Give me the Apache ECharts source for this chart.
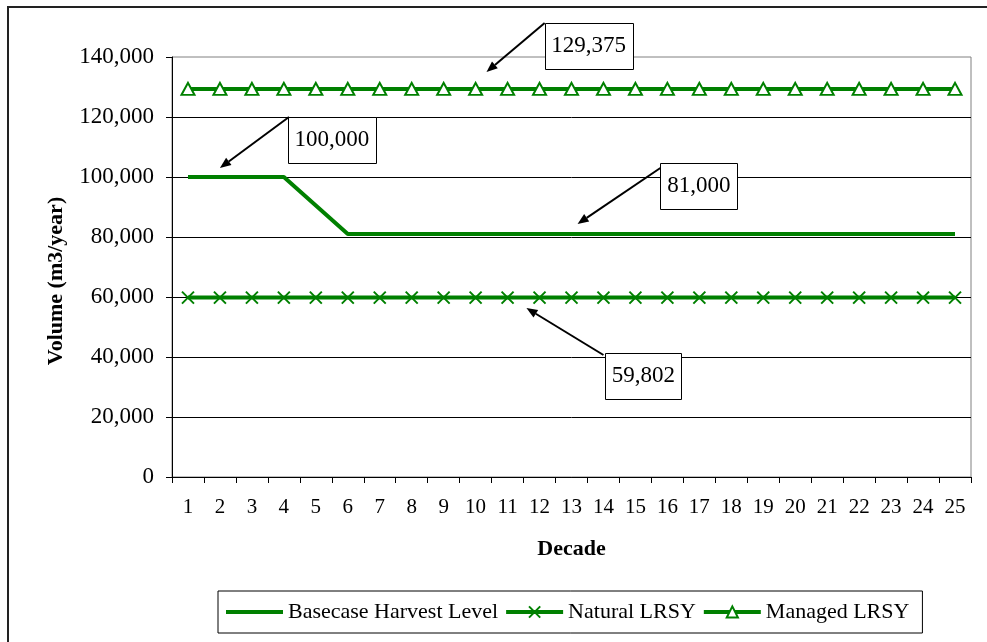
<!DOCTYPE html>
<html>
<head>
<meta charset="utf-8">
<script src="https://cdn.jsdelivr.net/npm/echarts@6/dist/echarts.min.js"></script>
<style>
  html, body { margin: 0; padding: 0; background: #fff; }
  #chart { width: 987px; height: 642px; }
</style>
</head>
<body>
<div id="chart"></div>
<script>
// Harvest volume (m3/year) by decade
const decades = ['1','2','3','4','5','6','7','8','9','10','11','12','13','14','15','16','17','18','19','20','21','22','23','24','25'];
const basecaseHarvest = [100000, 100000, 100000, 100000, 90500, 81000, 81000, 81000, 81000, 81000,
  81000, 81000, 81000, 81000, 81000, 81000, 81000, 81000, 81000, 81000, 81000, 81000, 81000, 81000, 81000];
const naturalLRSY = [59802, 59802, 59802, 59802, 59802, 59802, 59802, 59802, 59802, 59802,
  59802, 59802, 59802, 59802, 59802, 59802, 59802, 59802, 59802, 59802, 59802, 59802, 59802, 59802, 59802];
const managedLRSY = [129375, 129375, 129375, 129375, 129375, 129375, 129375, 129375, 129375, 129375,
  129375, 129375, 129375, 129375, 129375, 129375, 129375, 129375, 129375, 129375, 129375, 129375, 129375, 129375, 129375];
const seriesNames = ['Basecase Harvest Level', 'Natural LRSY', 'Managed LRSY'];
const yTicks = [0, 20000, 40000, 60000, 80000, 100000, 120000, 140000];

// Callout labels with arrows; tail/tip given as (decade, volume)
const calloutText = ['129,375', '100,000', '81,000', '59,802'];
const calloutTail = [[12.16, 151333], [4.16, 120000], [15.78, 103000], [14.0, 40667]];
const calloutTip  = [[10.34, 135000], [2.0, 103000], [13.19, 84333], [11.59, 56333]];
// box placement relative to the arrow tail, in pixels: [dx, dy, width, height]
const calloutBox = [[0, 0, 88, 46], [-1, 0, 88, 46], [0, -5, 77, 46], [2, -2, 76, 46]];

const FONT = "'Liberation Serif', 'Times New Roman', serif";
const GREEN = '#008000';
const CROSS = 'path://M0 0L10 10M10 0L0 10';

const chart = echarts.init(document.getElementById('chart'), null, { renderer: 'canvas' });

const fmt = v => v.toLocaleString('en-US');

chart.setOption({
  animation: false,
  backgroundColor: '#fff',
  textStyle: { fontFamily: FONT, color: '#000' },
  grid: {
    left: 172, right: 16, top: 57, bottom: 165,
    show: true, borderColor: '#808080', borderWidth: 1, backgroundColor: '#fff'
  },
  legend: {
    data: [
      { name: seriesNames[0], itemStyle: { opacity: 0 } },
      { name: seriesNames[1] },
      { name: seriesNames[2] }
    ],
    left: 218, top: 591,
    itemWidth: 57, itemHeight: 14, itemGap: 6,
    padding: [10, 13, 10, 6],
    borderColor: '#000', borderWidth: 1, backgroundColor: '#fff',
    lineStyle: { width: 4 },
    textStyle: { fontFamily: FONT, fontSize: 22, color: '#000' }
  },
  xAxis: {
    type: 'category',
    data: decades,
    boundaryGap: true,
    name: 'Decade',
    nameLocation: 'middle',
    nameGap: 61,
    nameTextStyle: { fontFamily: FONT, fontSize: 22, fontWeight: 'bold', color: '#000' },
    axisLine: { lineStyle: { color: '#000', width: 1 } },
    axisTick: { show: true, length: 6, lineStyle: { color: '#000' } },
    axisLabel: { fontFamily: FONT, fontSize: 21, color: '#000', margin: 20, interval: 0 },
    splitLine: { show: false }
  },
  yAxis: {
    type: 'value',
    min: yTicks[0], max: yTicks[yTicks.length - 1], interval: yTicks[1] - yTicks[0],
    name: 'Volume (m3/year)',
    nameLocation: 'middle',
    nameGap: 105,
    nameTextStyle: { fontFamily: FONT, fontSize: 22, fontWeight: 'bold', color: '#000', padding: [0, 28, 0, 0] },
    axisLine: { show: true, lineStyle: { color: '#000', width: 1 } },
    axisTick: { show: true, length: 6, lineStyle: { color: '#000' } },
    axisLabel: { fontFamily: FONT, fontSize: 23, color: '#000', margin: 18, formatter: fmt },
    splitLine: { show: true, showMaxLine: false, lineStyle: { color: '#000', width: 1 } }
  },
  series: [
    {
      name: seriesNames[0], type: 'line', data: basecaseHarvest,
      symbol: 'none', color: GREEN,
      lineStyle: { color: GREEN, width: 4 }
    },
    {
      name: seriesNames[1], type: 'line', data: naturalLRSY,
      symbol: CROSS, symbolSize: 12, showAllSymbol: true,
      color: GREEN,
      lineStyle: { color: GREEN, width: 4 },
      itemStyle: { color: GREEN, borderColor: GREEN, borderWidth: 2 }
    },
    {
      name: seriesNames[2], type: 'line', data: managedLRSY,
      symbol: 'triangle', symbolSize: [13, 12], showAllSymbol: true,
      color: GREEN,
      lineStyle: { color: GREEN, width: 4 },
      itemStyle: { color: '#fff', borderColor: GREEN, borderWidth: 2 }
    }
  ]
});

// Map a (decade, volume) pair to pixels through the chart's own axes
const xFirst = chart.convertToPixel({ xAxisIndex: 0 }, 0);
const xLast = chart.convertToPixel({ xAxisIndex: 0 }, decades.length - 1);
function toPx(d, v) {
  const x = xFirst + (d - 1) * (xLast - xFirst) / (decades.length - 1);
  const y = chart.convertToPixel({ yAxisIndex: 0 }, v);
  return [x, y];
}

// Outer frame around the whole figure
const overlay = [{
  type: 'rect', id: 'frame', silent: true, z: 100,
  shape: { x: 8, y: 7, width: 1200, height: 900 },
  style: { fill: 'none', stroke: '#222', lineWidth: 2 }
}];

calloutText.forEach((txt, i) => {
  const tail = toPx(calloutTail[i][0], calloutTail[i][1]);
  const tip = toPx(calloutTip[i][0], calloutTip[i][1]);
  const [dx, dy, w, h] = calloutBox[i];
  const ang = Math.atan2(tip[1] - tail[1], tip[0] - tail[0]);
  const headLen = 11, headHalf = 4.5;
  const base = [tip[0] - headLen * Math.cos(ang), tip[1] - headLen * Math.sin(ang)];
  const nx = -Math.sin(ang), ny = Math.cos(ang);
  overlay.push({
    type: 'rect', silent: true, z: 50,
    shape: { x: Math.round(tail[0] + dx) + 0.5, y: Math.round(tail[1] + dy) + 0.5, width: w, height: h },
    style: { fill: '#fff', stroke: '#000', lineWidth: 1 }
  });
  overlay.push({
    type: 'text', silent: true, z: 51,
    x: tail[0] + dx + w / 2, y: tail[1] + dy + h / 2,
    style: { text: txt, font: '23px ' + FONT, fill: '#000', align: 'center', verticalAlign: 'middle' }
  });
  overlay.push({
    type: 'line', silent: true, z: 52,
    shape: { x1: tail[0], y1: tail[1], x2: base[0], y2: base[1] },
    style: { stroke: '#000', lineWidth: 2 }
  });
  overlay.push({
    type: 'polygon', silent: true, z: 52,
    shape: { points: [tip, [base[0] + nx * headHalf, base[1] + ny * headHalf], [base[0] - nx * headHalf, base[1] - ny * headHalf]] },
    style: { fill: '#000' }
  });
});

chart.setOption({ graphic: overlay });
</script>
</body>
</html>
